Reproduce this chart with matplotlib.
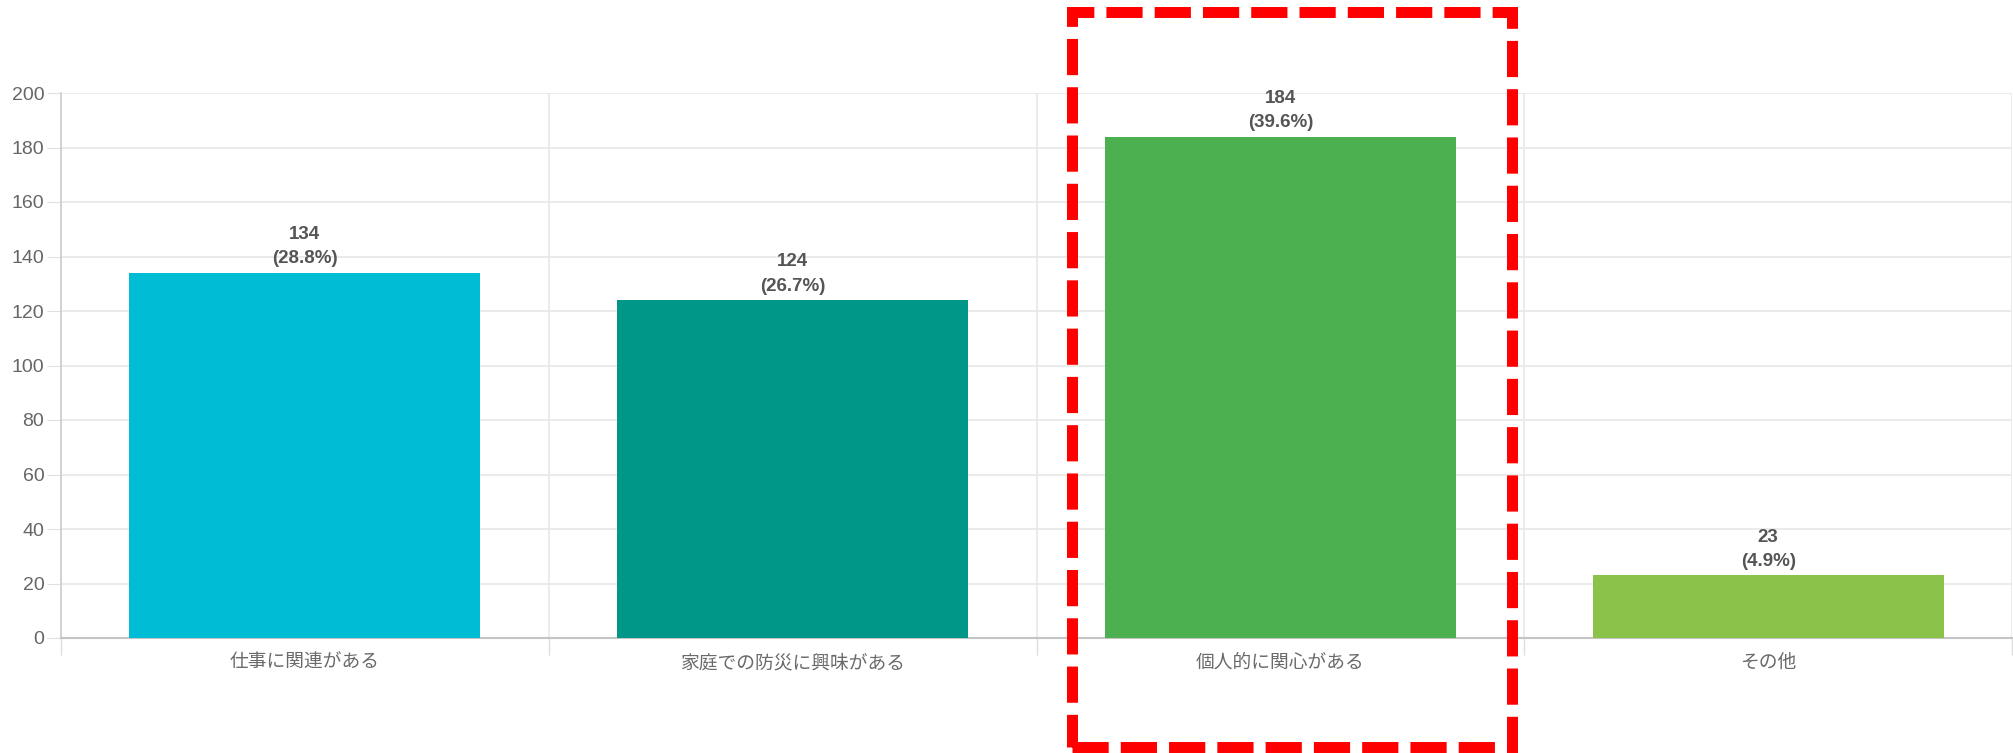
import matplotlib
matplotlib.use('Agg')
import matplotlib.pyplot as plt
from matplotlib.patches import Rectangle

# chart data
categories = ['仕事に関連がある', '家庭での防災に興味がある', '個人的に関心がある', 'その他']
counts = [134, 124, 184, 23]
percents = [28.8, 26.7, 39.6, 4.9]
bar_colors = ['#00BCD4', '#009688', '#4CAF50', '#8BC34A']
y_ticks = list(range(0, 201, 20))

plt.rcParams['font.family'] = ['Liberation Sans', 'Noto Sans CJK JP', 'DejaVu Sans']

W, H = 2013, 753
fig = plt.figure(figsize=(W / 100, H / 100), dpi=100)
ax = fig.add_axes([61 / W, 115 / H, (2012 - 61) / W, 545 / H])

x = list(range(len(categories)))
ax.bar(x, counts, width=0.72, color=bar_colors, zorder=3)

for xi, c, p in zip(x, counts, percents):
    ax.annotate(f'{c}\n({p}%)', (xi, c), xytext=(0, 4), textcoords='offset points',
                ha='center', va='bottom', fontsize=13.5, fontweight='bold',
                color='#555555', linespacing=1.55)

ax.set_xlim(-0.5, 3.5)
ax.set_ylim(0, 200)
ax.set_yticks(y_ticks)
ax.set_xticks(x)
ax.set_xticklabels(categories)
ax.set_xticks([-0.5, 0.5, 1.5, 2.5, 3.5], minor=True)

ax.tick_params(axis='y', length=10, color='#e0e0e0', labelcolor='#666666',
               labelsize=14, pad=2)
ax.tick_params(axis='x', which='major', length=0, labelcolor='#6a6a6a',
               labelsize=13.5, pad=12)
ax.tick_params(axis='x', which='minor', length=12, color='#dddddd', width=1)

ax.grid(axis='y', color='#e8e8e8', linewidth=1.2, zorder=0)
ax.grid(axis='x', which='minor', color='#e8e8e8', linewidth=1.2, zorder=0)

for s in ['top', 'right']:
    ax.spines[s].set_visible(False)
ax.spines['left'].set_color('#cccccc')
ax.spines['bottom'].set_color('#c4c4c4')
ax.spines['left'].set_linewidth(1.2)
ax.spines['bottom'].set_linewidth(1.5)

# red dashed highlight box
box = Rectangle((1072 / W, 6 / H), (1512 - 1072) / W, (741 - 6) / H,
                transform=fig.transFigure, fill=False, edgecolor='#ff0000',
                linewidth=7.9, linestyle=(0, (3.3, 1.1)), joinstyle='miter',
                clip_on=False, zorder=10)
fig.add_artist(box)

fig.savefig('out.png', dpi=100)
